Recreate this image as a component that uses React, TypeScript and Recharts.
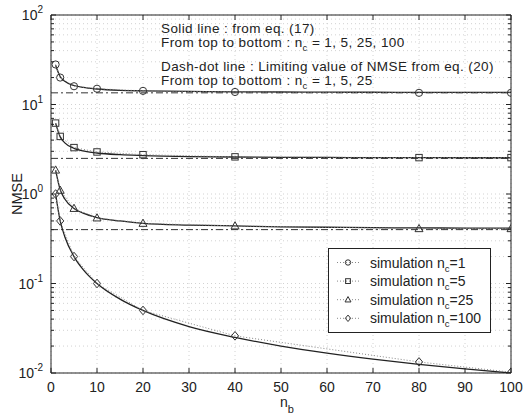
import { LineChart, Line, XAxis, YAxis, CartesianGrid, ReferenceLine, Legend } from "recharts";

// simulated points (markers)
const nbSim = [1, 2, 5, 10, 20, 40, 80, 100];
const simNc1 = [28, 20, 16, 15, 14.2, 13.8, 13.5, 13.5];
const simNc5 = [6.2, 4.4, 3.3, 2.95, 2.75, 2.6, 2.55, 2.55];
const simNc25 = [1.85, 1.1, 0.69, 0.54, 0.47, 0.44, 0.41, 0.41];
const simNc100 = [1.0, 0.5, 0.2, 0.1, 0.05, 0.026, 0.0133, 0.0102];

// solid curves, eq. (17)
const nbEq = [1, 2, 3, 5, 7, 10, 15, 20, 30, 40, 50, 60, 70, 80, 90, 100];
const eqNc1 = [27.5, 20.5, 18.2, 16.3, 15.5, 14.9, 14.4, 14.2, 14.0, 13.85, 13.8, 13.73, 13.7, 13.68, 13.65, 13.64];
const eqNc5 = [6.2, 4.35, 3.73, 3.24, 3.03, 2.87, 2.75, 2.69, 2.62, 2.59, 2.57, 2.56, 2.55, 2.55, 2.54, 2.54];
const eqNc25 = [1.85, 1.12, 0.88, 0.69, 0.61, 0.545, 0.5, 0.47, 0.45, 0.44, 0.43, 0.425, 0.42, 0.418, 0.416, 0.415];
const eqNc100 = [1, 0.5, 0.333, 0.2, 0.143, 0.1, 0.067, 0.05, 0.033, 0.025, 0.02, 0.0167, 0.0143, 0.0125, 0.0111, 0.01];

// dash-dot limits, eq. (20)
const limits = [13.5, 2.5, 0.4];

const ncLabels = ["1", "5", "25", "100"];
const markerShapes = ["circle", "square", "triangle", "diamond"];

const xTicks = [0, 10, 20, 30, 40, 50, 60, 70, 80, 90, 100];
const yTicks = [
  0.01, 0.02, 0.03, 0.04, 0.05, 0.06, 0.07, 0.08, 0.09,
  0.1, 0.2, 0.3, 0.4, 0.5, 0.6, 0.7, 0.8, 0.9,
  1, 2, 3, 4, 5, 6, 7, 8, 9,
  10, 20, 30, 40, 50, 60, 70, 80, 90,
  100,
];

const W = 529;
const H = 418;
const M = { top: 15, right: 18, bottom: 0, left: 0 };
const Y_W = 51;
const X_H = 45;
const PLOT_R = W - M.right;
const PLOT_T = M.top;
const INK = "#222";
const FONT = "'Liberation Sans', Arial, sans-serif";

const toPoints = (xs: number[], ys: number[]) => xs.map((x, i) => ({ x, y: ys[i] }));

const simSeries = [simNc1, simNc5, simNc25, simNc100].map((ys, i) => ({
  nc: ncLabels[i],
  shape: markerShapes[i],
  data: toPoints(nbSim, ys),
}));
const eqSeries = [eqNc1, eqNc5, eqNc25, eqNc100].map((ys) => toPoints(nbEq, ys));

function Marker({ shape, cx, cy, s = 1 }: { shape: string; cx: number; cy: number; s?: number }) {
  const p = { fill: "none", stroke: "#333", strokeWidth: 1 };
  if (shape === "square")
    return <rect x={cx - 3.2 * s} y={cy - 3.2 * s} width={6.4 * s} height={6.4 * s} {...p} />;
  if (shape === "triangle")
    return (
      <polygon
        points={`${cx},${cy - 4.2 * s} ${cx + 4 * s},${cy + 3 * s} ${cx - 4 * s},${cy + 3 * s}`}
        {...p}
      />
    );
  if (shape === "diamond")
    return (
      <polygon
        points={`${cx},${cy - 4.3 * s} ${cx + 3.6 * s},${cy} ${cx},${cy + 4.3 * s} ${cx - 3.6 * s},${cy}`}
        {...p}
      />
    );
  return <circle cx={cx} cy={cy} r={3.6 * s} {...p} />;
}

const dotFor = (shape: string) => (props: any) => (
  <Marker key={`${shape}-${props.index}`} shape={shape} cx={props.cx} cy={props.cy} />
);

function YTick(props: any) {
  const { x, y, payload } = props;
  const lg = Math.log10(payload.value);
  const exp = Math.round(lg);
  const major = Math.abs(lg - exp) < 1e-6;
  const len = major ? 5 : 3;
  return (
    <g>
      <line x1={x} x2={x + len} y1={y} y2={y} stroke={INK} />
      <line x1={PLOT_R - len} x2={PLOT_R} y1={y} y2={y} stroke={INK} />
      {major && (
        <text x={x - 8} y={y + 5} textAnchor="end" fontSize={14} fill={INK} fontFamily={FONT}>
          10
          <tspan dy={-7} fontSize={10}>
            {exp}
          </tspan>
        </text>
      )}
    </g>
  );
}

function XTick(props: any) {
  const { x, y, payload } = props;
  return (
    <g>
      <line x1={x} x2={x} y1={y} y2={y - 5} stroke={INK} />
      <line x1={x} x2={x} y1={PLOT_T} y2={PLOT_T + 5} stroke={INK} />
      <text x={x} y={y + 19} textAnchor="middle" fontSize={14} fill={INK} fontFamily={FONT}>
        {payload.value}
      </text>
    </g>
  );
}

function SimLegend() {
  return (
    <svg width={163} height={85} style={{ display: "block" }}>
      <rect x={0.5} y={0.5} width={162} height={84} fill="#fff" stroke={INK} />
      {simSeries.map((s, i) => {
        const base = 19.5 + i * 18.6;
        const cy = base - 5;
        return (
          <g key={s.nc}>
            <line x1={9} x2={32} y1={cy} y2={cy} stroke="#888" strokeDasharray="1 2" />
            <Marker shape={s.shape} cx={20} cy={cy} s={0.75} />
            <text x={42} y={base} fontSize={14} fill={INK} fontFamily={FONT}>
              simulation n
              <tspan dy={4} fontSize={9.5}>c</tspan>
              <tspan dy={-4}>={s.nc}</tspan>
            </text>
          </g>
        );
      })}
    </svg>
  );
}

const noteStyle = { fontSize: 13.5, letterSpacing: 0.4 };

export default function App() {
  return (
    <div style={{ position: "absolute", left: 0, top: 0, width: W, height: H, background: "#fff" }}>
      <LineChart width={W} height={H} margin={M}>
        <CartesianGrid stroke="#d2d2d2" strokeDasharray="1 3" />
        <XAxis
          type="number"
          dataKey="x"
          domain={[0, 100]}
          ticks={xTicks}
          interval={0}
          height={X_H}
          tickSize={0}
          tickMargin={0}
          tick={<XTick />}
          axisLine={{ stroke: INK }}
          allowDataOverflow
        />
        <YAxis
          type="number"
          dataKey="y"
          scale="log"
          domain={[0.01, 100]}
          ticks={yTicks}
          interval={0}
          width={Y_W}
          tickSize={0}
          tickMargin={0}
          tick={<YTick />}
          axisLine={{ stroke: INK }}
          allowDataOverflow
        />
        <ReferenceLine y={100} stroke={INK} />
        <ReferenceLine x={100} stroke={INK} />
        {limits.map((v) => (
          <ReferenceLine key={v} y={v} stroke="#333" strokeDasharray="7 3 2 3" />
        ))}
        {eqSeries.map((d, i) => (
          <Line
            key={`eq-${i}`}
            data={d}
            dataKey="y"
            type="monotone"
            stroke={INK}
            strokeWidth={1.3}
            dot={false}
            legendType="none"
            isAnimationActive={false}
          />
        ))}
        {simSeries.map((s) => (
          <Line
            key={`sim-${s.nc}`}
            data={s.data}
            dataKey="y"
            name={`simulation nc=${s.nc}`}
            type="linear"
            stroke="#888"
            strokeDasharray="1 2"
            dot={dotFor(s.shape)}
            isAnimationActive={false}
          />
        ))}
        <Legend
          layout="horizontal"
          verticalAlign="middle"
          align="center"
          content={() => <SimLegend />}
          wrapperStyle={{ left: 328, top: 248, width: 163, height: 85 }}
        />
      </LineChart>
      <svg
        width={W}
        height={H}
        style={{ position: "absolute", left: 0, top: 0, pointerEvents: "none" }}
        fontFamily={FONT}
        fill={INK}
      >
        <text x={161} y={32.5} style={noteStyle}>Solid line : from eq. (17)</text>
        <text x={161} y={47} style={noteStyle}>
          From top to bottom : n<tspan dy={4} fontSize={9.5}>c</tspan>
          <tspan dy={-4}> = 1, 5, 25, 100</tspan>
        </text>
        <text x={161} y={70.5} style={noteStyle}>Dash-dot line : Limiting value of NMSE from eq. (20)</text>
        <text x={161} y={85} style={noteStyle}>
          From top to bottom : n<tspan dy={4} fontSize={9.5}>c</tspan>
          <tspan dy={-4}> = 1, 5, 25</tspan>
        </text>
        <text x={22} y={194} fontSize={14.5} textAnchor="middle" transform="rotate(-90 22 194)">
          NMSE
        </text>
        <text x={280} y={407} fontSize={14}>
          n<tspan dy={6} fontSize={11}>b</tspan>
        </text>
      </svg>
    </div>
  );
}
